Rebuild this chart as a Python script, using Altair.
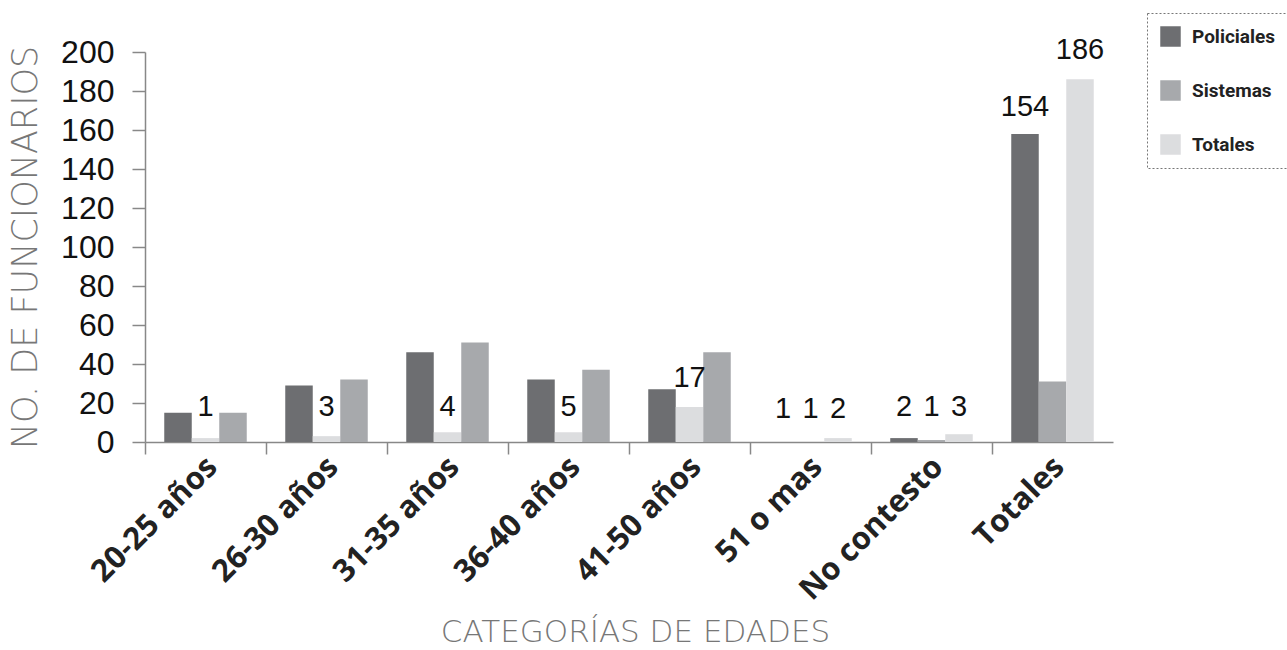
import altair as alt
import pandas as pd

categories = ["20-25 años", "26-30 años", "31-35 años", "36-40 años",
              "41-50 años", "51 o mas", "No contesto", "Totales"]
series = ["Policiales", "Sistemas", "Totales"]

# bar heights, by slot inside each group (left, middle, right)
slot_left = [15, 29, 46, 32, 27, 0, 2, 158]
slot_mid = [2, 3, 5, 5, 18, 0, 1, 31]
slot_right = [15, 32, 51, 37, 46, 2, 4, 186]
# colour (series) drawn in each slot, as in the picture
slot_mid_series = ["Totales", "Totales", "Totales", "Totales", "Totales", "Sistemas", "Sistemas", "Sistemas"]
slot_right_series = ["Sistemas", "Sistemas", "Sistemas", "Sistemas", "Sistemas", "Totales", "Totales", "Totales"]

# printed value labels: category, slot, text, height (data units)
label_cat = ["20-25 años", "26-30 años", "31-35 años", "36-40 años", "41-50 años",
             "51 o mas", "51 o mas", "51 o mas",
             "No contesto", "No contesto", "No contesto",
             "Totales", "Totales"]
label_slot = ["b", "b", "b", "b", "b", "a", "b", "c", "a", "b", "c", "a", "c"]
label_text = ["1", "3", "4", "5", "17", "1", "1", "2", "2", "1", "3", "154", "186"]
label_y = [18, 18, 18, 18, 33, 17, 17, 17, 18, 18, 18, 172, 201]
y_ticks = [0, 20, 40, 60, 80, 100, 120, 140, 160, 180, 200]

colors = ["#6d6e71", "#a7a9ac", "#dcdddf"]

rows = []
for i, c in enumerate(categories):
    rows.append({"cat": c, "slot": "a", "serie": "Policiales", "v": slot_left[i]})
    rows.append({"cat": c, "slot": "b", "serie": slot_mid_series[i], "v": slot_mid[i]})
    rows.append({"cat": c, "slot": "c", "serie": slot_right_series[i], "v": slot_right[i]})
bars_df = pd.DataFrame(rows)
labels_df = pd.DataFrame({"cat": label_cat, "slot": label_slot, "t": label_text, "y": label_y})

x_axis = alt.Axis(title="CATEGORÍAS DE EDADES", labelAngle=-45, labelAlign="right",
                  labelBaseline="middle", labelOffset=7, labelPadding=8,
                  bandPosition=0, tickSize=12, tickColor="#888", domainColor="#888",
                  tickWidth=1.5, domainWidth=1.5, labelOverlap=False, labelLimit=400,
                  labelFont="Open Sans", labelFontWeight="bold", labelFontSize=31,
                  labelColor="#222",
                  titleFont="DejaVu Sans", titleFontWeight=200, titleFontSize=31,
                  titleColor="#777", titleX=490, titleY=190, titleBaseline="middle")
y_axis = alt.Axis(title="NO. DE FUNCIONARIOS", values=y_ticks,
                  grid=False, tickSize=13, tickColor="#888", domainColor="#888",
                  tickWidth=1.5, domainWidth=1.5, labelOverlap=False,
                  labelFont="Liberation Sans", labelFontSize=32, labelColor="#111",
                  labelPadding=18,
                  titleFont="DejaVu Sans", titleFontWeight=200, titleFontSize=35,
                  titleColor="#777", titleX=-120, titleBaseline="middle")
x_scale = alt.Scale(paddingInner=0, paddingOuter=0)
y_scale = alt.Scale(domain=[0, 200])
off_scale = alt.Scale(paddingInner=0, paddingOuter=0.7)

bars = alt.Chart(bars_df).mark_bar().encode(
    x=alt.X("cat:N", sort=categories, scale=x_scale, axis=x_axis),
    xOffset=alt.XOffset("slot:N", sort=["a", "b", "c"], scale=off_scale),
    y=alt.Y("v:Q", scale=y_scale, axis=y_axis),
    color=alt.Color("serie:N", sort=series,
                    scale=alt.Scale(domain=series, range=colors),
                    legend=alt.Legend(title=None, orient="none", legendX=1002, legendY=-39,
                                      symbolType="square", symbolSize=420,
                                      symbolStrokeWidth=0, labelOffset=11,
                                      labelFont="Roboto", labelFontWeight="bold",
                                      labelFontSize=19, labelColor="#222",
                                      rowPadding=33, padding=13,
                                      strokeColor="#777")),
)

texts = alt.Chart(labels_df).mark_text(font="Liberation Sans", fontSize=29, color="#111",
                                       baseline="middle").encode(
    x=alt.X("cat:N", sort=categories, scale=x_scale, axis=x_axis),
    xOffset=alt.XOffset("slot:N", sort=["a", "b", "c"], scale=off_scale),
    y=alt.Y("y:Q", scale=y_scale, axis=y_axis),
    text="t:N",
)

chart = alt.layer(bars, texts).properties(
    width=968, height=390,
    autosize=alt.AutoSizeParams(type="none"),
    padding={"left": 145, "top": 52, "right": 174, "bottom": 208},
).configure_view(stroke=None).configure_legend(strokeDash=[2, 2])

chart.save("out.html", embed_options={"renderer": "svg", "actions": False})
